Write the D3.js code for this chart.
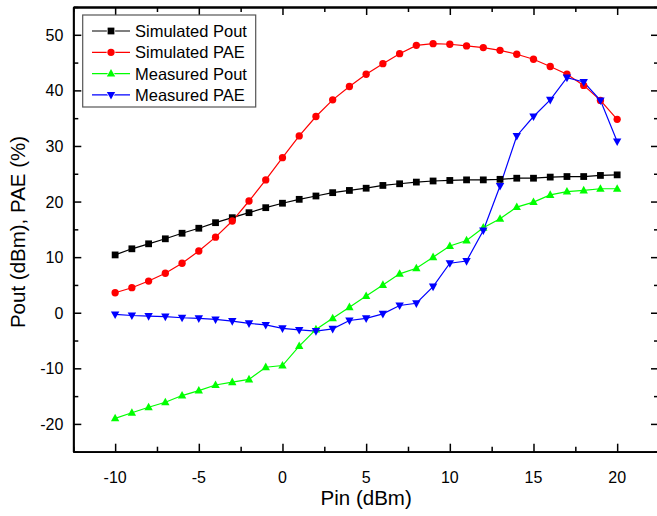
<!DOCTYPE html>
<html>
<head>
<meta charset="utf-8">
<script src="https://cdn.jsdelivr.net/npm/d3@7"></script>
<style>
  html, body { margin: 0; padding: 0; background: #fff; }
  svg { display: block; font-family: "Liberation Sans", Arial, sans-serif; }
</style>
</head>
<body>
<svg id="chart" width="657" height="516"></svg>
<script>
// Input power sweep (dBm)
const pin = d3.range(-10, 21, 1);

const simPout = [10.4, 11.5, 12.4, 13.3, 14.3, 15.2, 16.2, 17.1, 18.0, 18.9, 19.7,
                 20.4, 21.0, 21.6, 22.0, 22.4, 22.9, 23.2, 23.5, 23.7, 23.8,
                 23.9, 23.9, 24.0, 24.2, 24.2, 24.4, 24.5, 24.5, 24.7, 24.8];
const simPAE = [3.6, 4.5, 5.7, 7.1, 8.9, 11.1, 13.6, 16.5, 20.1, 23.9, 27.9,
                31.8, 35.3, 38.3, 40.7, 42.9, 44.8, 46.6, 48.1, 48.4, 48.3,
                48.0, 47.7, 47.2, 46.5, 45.6, 44.3, 42.9, 40.9, 38.2, 34.8];
const measPout = [-19.0, -18.0, -17.0, -16.1, -14.9, -14.0, -13.0, -12.5, -12.0, -9.8, -9.5,
                  -6.0, -3.0, -1.0, 1.0, 3.0, 5.0, 7.0, 8.0, 10.0, 12.0,
                  13.0, 15.3, 16.9, 19.0, 19.9, 21.2, 21.8, 22.0, 22.3, 22.3];
const measPAE = [-0.3, -0.5, -0.6, -0.7, -0.9, -1.0, -1.2, -1.5, -1.9, -2.2, -2.8,
                 -3.1, -3.3, -2.9, -1.4, -1.0, -0.2, 1.3, 1.7, 4.7, 8.9,
                 9.3, 14.8, 22.8, 31.8, 35.3, 38.3, 42.3, 41.5, 38.2, 30.8];

const seriesNames = ["Simulated Pout", "Simulated PAE", "Measured Pout", "Measured PAE"];
const seriesColors = ["#000000", "#ff0000", "#00ff00", "#0000ff"];
const seriesSymbols = ["square", "circle", "triUp", "triDown"];
const seriesValues = [simPout, simPAE, measPout, measPAE];

const xTicks = [-10, -5, 0, 5, 10, 15, 20];
const yTicks = [-20, -10, 0, 10, 20, 30, 40, 50];
const xTitle = "Pin (dBm)";
const yTitle = "Pout (dBm), PAE (%)";

const svg = d3.select("#chart");
const plotLeft = 73.3, plotRight = 659, plotTop = 7, plotBottom = 451.7;

const x = d3.scaleLinear().domain([-12.5, 22.5]).range([plotLeft, plotRight]);
const y = d3.scaleLinear().domain([-25, 55]).range([plotBottom, plotTop]);

const xMinor = d3.range(-12.5, 22.6, 2.5).filter(v => !xTicks.includes(v));
const yMinor = d3.range(-25, 56, 5).filter(v => !yTicks.includes(v));

// Axes: ticks drawn inward on all four sides
function frameAxis(gen, tr, vals, len) {
  const g = svg.append("g").attr("transform", tr)
    .call(gen.tickValues(vals).tickSizeInner(len).tickSizeOuter(0).tickFormat(""));
  g.select(".domain").attr("stroke", "#000").attr("stroke-width", 1.8);
  g.selectAll(".tick line").attr("stroke", "#000").attr("stroke-width", 1.5);
  return g;
}
// bottom
frameAxis(d3.axisTop(x), `translate(0,${plotBottom})`, xTicks, 8);
frameAxis(d3.axisTop(x), `translate(0,${plotBottom})`, xMinor, 5);
svg.append("g").selectAll("text").data(xTicks).join("text")
  .attr("x", d => x(d)).attr("y", plotBottom + 31)
  .attr("text-anchor", "middle").attr("font-size", 16).attr("fill", "#000")
  .text(d => d);
// top
frameAxis(d3.axisBottom(x), `translate(0,${plotTop})`, xTicks, 8);
frameAxis(d3.axisBottom(x), `translate(0,${plotTop})`, xMinor, 5);
// left
frameAxis(d3.axisRight(y), `translate(${plotLeft},0)`, yTicks, 8);
frameAxis(d3.axisRight(y), `translate(${plotLeft},0)`, yMinor, 5);
svg.append("g").selectAll("text").data(yTicks).join("text")
  .attr("x", plotLeft - 10).attr("y", d => y(d) + 6)
  .attr("text-anchor", "end").attr("font-size", 16).attr("fill", "#000")
  .text(d => d);
// right
frameAxis(d3.axisLeft(y), `translate(${plotRight},0)`, yTicks, 8);
frameAxis(d3.axisLeft(y), `translate(${plotRight},0)`, yMinor, 5);

// Axis titles
svg.append("text").attr("x", (x(-10) + x(20)) / 2).attr("y", 505)
  .attr("text-anchor", "middle").attr("font-size", 20.5).attr("fill", "#000")
  .text(xTitle);
svg.append("text").attr("transform", `translate(25,232) rotate(-90)`)
  .attr("text-anchor", "middle").attr("font-size", 20.5).attr("fill", "#000")
  .text(yTitle);

// Marker shapes
function symbolPath(kind) {
  if (kind === "square") return d3.symbol(d3.symbolSquare, 46)();
  if (kind === "circle") return d3.symbol(d3.symbolCircle, 42)();
  if (kind === "triUp") return "M0,-4.6L4.2,3L-4.2,3Z";
  return "M0,4.6L4.2,-3L-4.2,-3Z";
}

const line = d3.line().x((d, i) => x(pin[i])).y(d => y(d));
const plot = svg.append("g");
seriesValues.forEach((vals, s) => {
  plot.append("path").datum(vals).attr("d", line)
    .attr("fill", "none").attr("stroke", seriesColors[s]).attr("stroke-width", 1.2);
});
seriesValues.forEach((vals, s) => {
  plot.append("g").selectAll("path").data(vals).join("path")
    .attr("transform", (d, i) => `translate(${x(pin[i])},${y(d)})`)
    .attr("d", symbolPath(seriesSymbols[s]))
    .attr("fill", seriesColors[s]);
});

// Legend
const lg = svg.append("g");
lg.append("rect").attr("x", 82.7).attr("y", 15).attr("width", 173).attr("height", 92)
  .attr("fill", "#fff").attr("stroke", "#555").attr("stroke-width", 1.2);
seriesNames.forEach((name, s) => {
  const ry = 31 + s * 21.3;
  lg.append("line").attr("x1", 92).attr("x2", 130).attr("y1", ry).attr("y2", ry)
    .attr("stroke", seriesColors[s]).attr("stroke-width", 1.2);
  lg.append("path").attr("transform", `translate(111,${ry})`)
    .attr("d", symbolPath(seriesSymbols[s])).attr("fill", seriesColors[s])
    .attr("stroke", "#fff").attr("stroke-width", 1.5).attr("paint-order", "stroke");
  lg.append("text").attr("x", 135).attr("y", ry + 6)
    .attr("font-size", 16.5).attr("fill", "#000").text(name);
});
</script>
</body>
</html>
